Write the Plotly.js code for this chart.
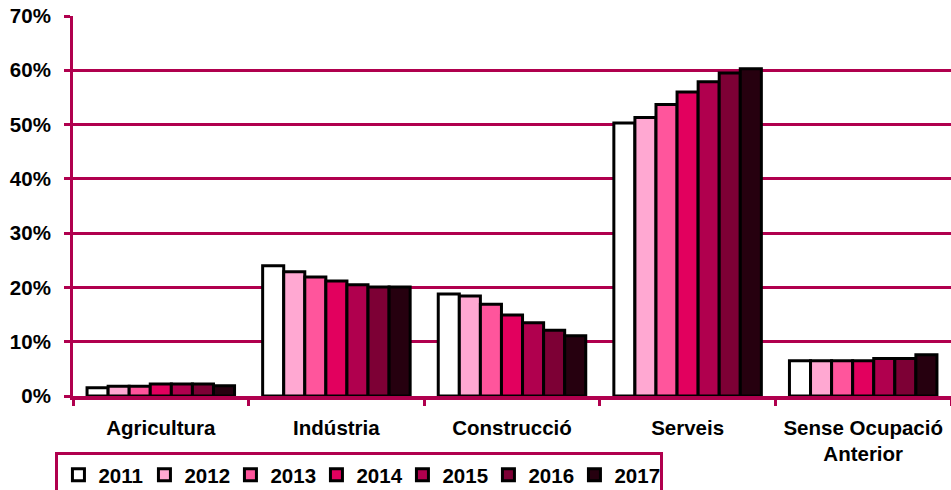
<!DOCTYPE html>
<html><head><meta charset="utf-8">
<script src="https://cdn.plot.ly/plotly-3.0.1.min.js"></script>
<style>html,body{margin:0;padding:0;background:#fff}#chart{width:951px;height:490px}</style>
</head><body><div id="chart"></div>
<script>
const categories = ["Agricultura", "Indústria", "Construcció", "Serveis", "Sense Ocupació<br>Anterior"];
const years = ["2011", "2012", "2013", "2014", "2015", "2016", "2017"];
const v2011 = [1.5, 24.0, 18.8, 50.3, 6.5];
const v2012 = [1.8, 22.9, 18.4, 51.3, 6.5];
const v2013 = [1.8, 21.9, 16.9, 53.7, 6.5];
const v2014 = [2.2, 21.2, 14.9, 56.0, 6.5];
const v2015 = [2.2, 20.5, 13.5, 57.9, 6.9];
const v2016 = [2.2, 20.1, 12.1, 59.5, 6.9];
const v2017 = [1.9, 20.1, 11.1, 60.3, 7.6];
const series = [v2011, v2012, v2013, v2014, v2015, v2016, v2017];
const colors = ["#FFFFFF", "#FFA8D2", "#FF559C", "#E2005E", "#B0004E", "#7D0035", "#26000F"];
const accent = "#B0004E";

const traces = series.map((vals, i) => ({
  type: "bar", name: years[i], x: categories, y: vals,
  marker: {color: colors[i], line: {color: "#000", width: 3}}
}));

const font = {family: "Liberation Sans, Arial, sans-serif", size: 20.5, color: "#000", weight: "bold"};

Plotly.newPlot("chart", traces, {
  width: 951, height: 490,
  margin: {l: 73, r: 0, t: 16, b: 94, autoexpand: false},
  paper_bgcolor: "#fff", plot_bgcolor: "#fff",
  barmode: "group", bargap: 0.16, bargroupgap: 0,
  font: font,
  showlegend: true,
  legend: {orientation: "h", x: -0.02, y: -0.147, xanchor: "left", yanchor: "top",
    bordercolor: accent, borderwidth: 3, bgcolor: "rgba(255,255,255,0)",
    font: font, entrywidth: 41, traceorder: "normal", itemwidth: 30},
  xaxis: {type: "category", showline: true, linecolor: accent, linewidth: 4,
    ticks: "outside", tickson: "boundaries", ticklen: 6, tickwidth: 3, tickcolor: accent,
    showgrid: false, tickfont: font, ticklabelstandoff: 10, fixedrange: true},
  yaxis: {range: [0, 70], dtick: 10, ticksuffix: "%", showline: true, linecolor: accent, linewidth: 3,
    ticks: "outside", ticklen: 6, tickwidth: 3, tickcolor: accent, ticklabelstandoff: 9,
    showgrid: true, gridcolor: accent, gridwidth: 3, zeroline: false, tickfont: font, fixedrange: true}
}, {displayModeBar: false, staticPlot: true});
</script></body></html>
